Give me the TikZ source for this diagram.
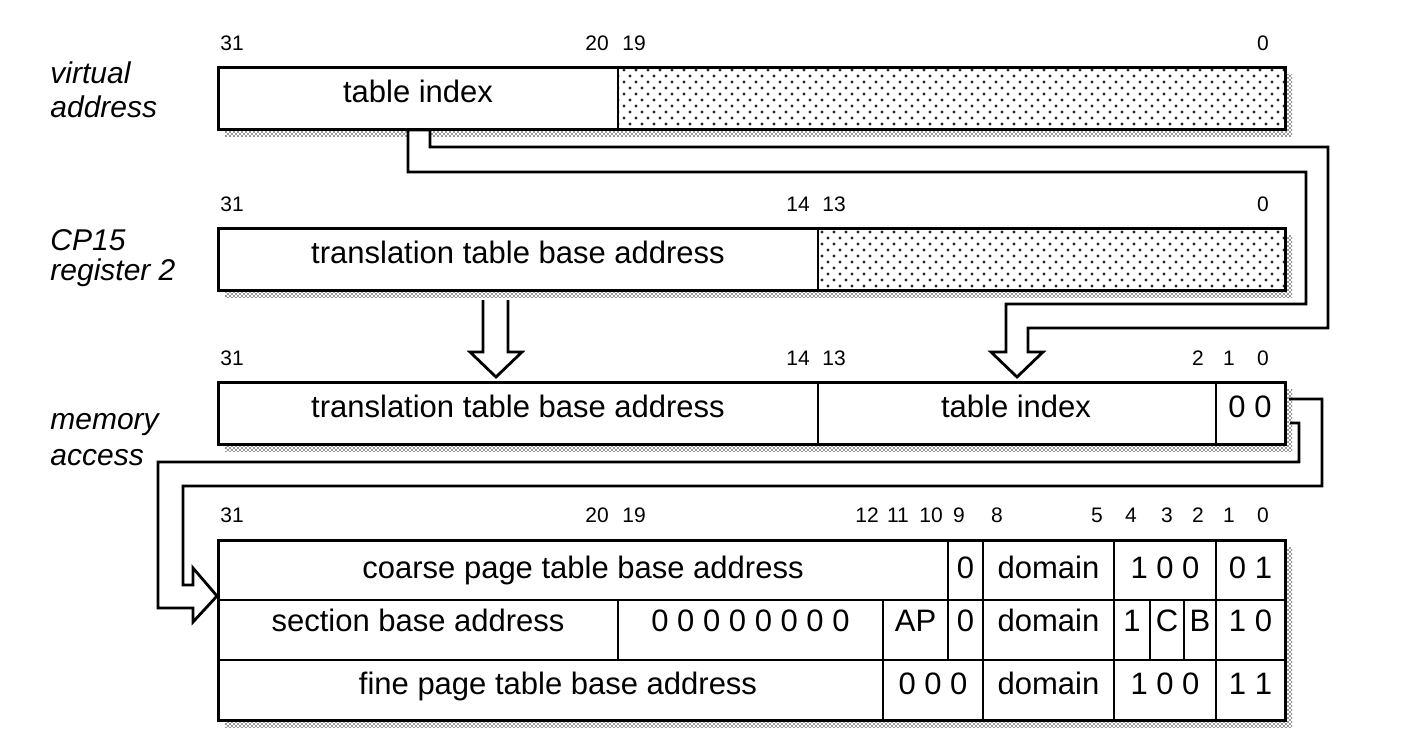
\documentclass[tikz,border=0pt]{standalone}
\usepackage{fontspec}
\setmainfont{Liberation Sans}
\usetikzlibrary{patterns}

\pgfdeclarepatternformonly{stipple}{\pgfqpoint{-1pt}{-1pt}}{\pgfqpoint{4pt}{4pt}}{\pgfqpoint{6pt}{6pt}}{%
  \pgfpathcircle{\pgfqpoint{0pt}{0pt}}{0.8pt}%
  \pgfpathcircle{\pgfqpoint{3pt}{3pt}}{0.8pt}%
  \pgfusepath{fill}}
\pgfdeclarepatternformonly{shadowdots}{\pgfqpoint{-1pt}{-1pt}}{\pgfqpoint{2pt}{2pt}}{\pgfqpoint{2pt}{2pt}}{%
  \pgfpathcircle{\pgfqpoint{0pt}{0pt}}{0.45pt}%
  \pgfpathcircle{\pgfqpoint{1pt}{1pt}}{0.45pt}%
  \pgfusepath{fill}}

\begin{document}
\begin{tikzpicture}[x=0.5pt,y=-0.5pt,
    reg/.style={line width=1.5pt},
    sep/.style={line width=1.1pt},
    broad/.style={line width=1.4pt},
    field/.style={font=\fontsize{15.5}{18}\selectfont,anchor=base,inner sep=0pt},
    bitno/.style={font=\fontsize{10.5}{12}\selectfont,anchor=base,inner sep=0pt},
    caption/.style={font=\fontsize{15}{18}\selectfont\itshape,anchor=base west,inner sep=0pt},
    shadow/.style={pattern=shadowdots,pattern color=black!80},
    stippled/.style={pattern=stipple,pattern color=black!85}]
    \useasboundingbox (0,0) rectangle (1416,754);

    % Shadows
    \fill[shadow] (225,75) rectangle (1292,137);
    \fill[shadow] (225,235) rectangle (1292,297);
    \fill[shadow] (225,389) rectangle (1292,451);
    \fill[shadow] (225,547) rectangle (1292,727);
    \fill[white] (218,68) rectangle (1285,130);
    \fill[white] (218,228) rectangle (1285,290);
    \fill[white] (218,382) rectangle (1285,444);
    \fill[white] (218,540) rectangle (1285,720);

    % Table index into memory access
    \coordinate (tipA) at (1017,377);
    \filldraw[broad,fill=white] (430,130) -- (430,147) -- (1328,147) -- (1328,328) -- (1028,328)
        -- (1028,352) -- (1043,352) -- (tipA) -- (991,352) -- (1006,352) -- (1006,304)
        -- (1306,304) -- (1306,172) -- (408,172) -- (408,130) -- cycle;

    % Virtual address
    \fill[stippled] (618,68) rectangle (1285,130);
    \draw[reg] (218,68) rectangle (1285,130);
    \draw[sep] (618,68) -- (618,130);
    \node[field] (vaidx) at (418,103) {table index};
    \node[bitno] (va31) at (232,51) {31};
    \node[bitno] (va20) at (597,51) {20};
    \node[bitno] (va19) at (634,51) {19};
    \node[bitno] (va0) at (1263,51) {0};
    \node[caption] (vacap) at (50,84) {virtual};
    \node[caption] (vacap2) at (50,118) {address};

    % CP15 register 2
    \fill[stippled] (818,228) rectangle (1285,290);
    \draw[reg] (218,228) rectangle (1285,290);
    \draw[sep] (818,228) -- (818,290);
    \node[field] (ttb) at (518,263) {translation table base address};
    \node[bitno] (cp31) at (232,212) {31};
    \node[bitno] (cp14) at (798,212) {14};
    \node[bitno] (cp13) at (834,212) {13};
    \node[bitno] (cp0) at (1263,212) {0};
    \node[caption] (cpcap) at (50,250) {CP15};
    \node[caption] (cpcap2) at (50,280) {register 2};

    % Base address down
    \coordinate (tipB) at (496,377);
    \draw[broad] (483,300) -- (483,352) -- (470,352) -- (tipB) -- (522,352) -- (508,352) -- (508,300);

    % Memory access
    \draw[reg] (218,382) rectangle (1285,444);
    \draw[sep] (818,382) -- (818,444);
    \draw[sep] (1216,382) -- (1216,444);
    \node[field] (matb) at (518,417) {translation table base address};
    \node[field] (maidx) at (1016,417) {table index};
    \node[field] (mazero) at (1250,417) {0 0};
    \node[bitno] (ma31) at (232,365) {31};
    \node[bitno] (ma14) at (798,365) {14};
    \node[bitno] (ma13) at (834,365) {13};
    \node[bitno] (ma2) at (1198,365) {2};
    \node[bitno] (ma1) at (1229,365) {1};
    \node[bitno] (ma0) at (1263,365) {0};
    \node[caption] (macap) at (50,429) {memory};
    \node[caption] (macap2) at (50,465) {access};

    % Memory access to descriptor
    \coordinate (tipC) at (217,596);
    \draw[broad] (1289,399) -- (1322,399) -- (1322,486) -- (183,486) -- (183,585) -- (193,585)
        -- (193,568) -- (tipC) -- (193,622) -- (193,608) -- (158,608) -- (158,462)
        -- (1299,462) -- (1299,423) -- (1290,423);

    % Descriptors
    \draw[reg] (218,540) rectangle (1285,720);
    \draw[sep] (218,600) -- (1285,600) (218,660) -- (1285,660);
    \draw[sep] (983,540) -- (983,720) (1114,540) -- (1114,720) (1216,540) -- (1216,720);
    \draw[sep] (948,540) -- (948,660) (883,600) -- (883,720) (618,600) -- (618,660);
    \draw[sep] (1150,600) -- (1150,660) (1184,600) -- (1184,660);
    \node[bitno] (d31) at (232,522) {31};
    \node[bitno] (d20) at (597,522) {20};
    \node[bitno] (d19) at (634,522) {19};
    \node[bitno] (d12) at (867,522) {12};
    \node[bitno] (d11) at (898,522) {11};
    \node[bitno] (d10) at (931,522) {10};
    \node[bitno] (d9) at (959,522) {9};
    \node[bitno] (d8) at (997,522) {8};
    \node[bitno] (d5) at (1097,522) {5};
    \node[bitno] (d4) at (1131,522) {4};
    \node[bitno] (d3) at (1167,522) {3};
    \node[bitno] (d2) at (1198,522) {2};
    \node[bitno] (d1) at (1229,522) {1};
    \node[bitno] (d0) at (1263,522) {0};

    \node[field] (cpt) at (583,578) {coarse page table base address};
    \node[field] (czero) at (965.5,578) {0};
    \node[field] (cdom) at (1048.5,578) {domain};
    \node[field] (cbits) at (1165,578) {1 0 0};
    \node[field] (ctype) at (1250.5,578) {0 1};

    \node[field] (sba) at (418,631) {section base address};
    \node[field] (szeros) at (750.5,631) {0 0 0 0 0 0 0 0};
    \node[field] (sap) at (915.5,631) {AP};
    \node[field] (szero) at (965.5,631) {0};
    \node[field] (sdom) at (1048.5,631) {domain};
    \node[field] (sone) at (1132,631) {1};
    \node[field] (sc) at (1167,631) {C};
    \node[field] (sb) at (1200,631) {B};
    \node[field] (stype) at (1250.5,631) {1 0};

    \node[field] (fpt) at (558,694) {fine page table base address};
    \node[field] (fzeros) at (933,694) {0 0 0};
    \node[field] (fdom) at (1048.5,694) {domain};
    \node[field] (fbits) at (1165,694) {1 0 0};
    \node[field] (ftype) at (1250.5,694) {1 1};
\end{tikzpicture}
\end{document}
